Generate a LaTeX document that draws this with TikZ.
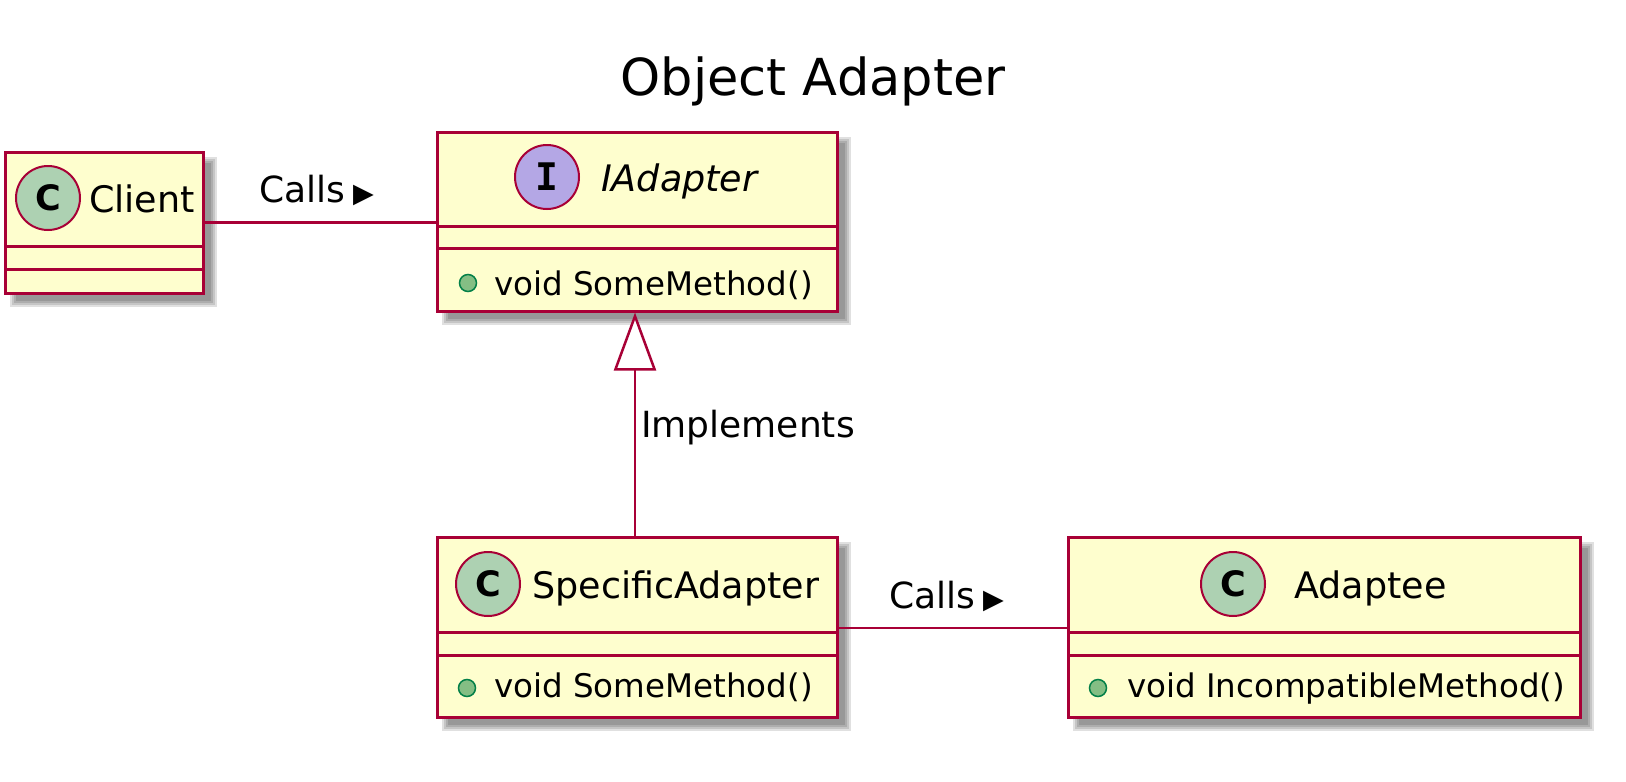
\documentclass[tikz,border=0pt]{standalone}
\usepackage{fontspec}
\setmainfont{DejaVu Sans}
\newfontfamily\letterfont{DejaVu Sans Mono}
\newfontfamily\cletterfont{DejaVu Sans}
\usetikzlibrary{arrows.meta,backgrounds,calc}
\definecolor{umlborder}{HTML}{A80036}
\definecolor{umlfill}{HTML}{FEFECE}
\definecolor{classcirc}{HTML}{ADD1B2}
\definecolor{ifacecirc}{HTML}{B4A7E5}
\definecolor{dotfill}{HTML}{84BE84}
\definecolor{dotline}{HTML}{038048}
\newcommand\tritext{{\fontsize{27}{27}\selectfont ▶}}
\begin{document}
\begin{tikzpicture}[x=1pt,y=-1pt,
  classbox/.style={draw=umlborder, fill=umlfill, line width=3pt, rectangle, inner sep=0pt},
  divider/.style={draw=umlborder, line width=3pt},
  ccirc/.style={circle, draw=umlborder, fill=classcirc, line width=2pt, minimum size=64pt, inner sep=0pt,
    font=\cletterfont\bfseries\fontsize{35}{35}\selectfont},
  icirc/.style={ccirc, fill=ifacecirc, font=\letterfont\bfseries\fontsize{38}{38}\selectfont},
  namelbl/.style={anchor=base west, inner sep=0pt, font=\fontsize{36.5}{42}\selectfont},
  methlbl/.style={anchor=base west, inner sep=0pt, font=\fontsize{32.5}{38}\selectfont},
  pubdot/.style={circle, draw=dotline, fill=dotfill, line width=1.5pt, minimum size=17pt, inner sep=0pt},
  edgelbl/.style={anchor=base west, inner sep=0pt, font=\fontsize{36}{42}\selectfont},
  conn/.style={draw=umlborder, line width=2.5pt}
]
\useasboundingbox (0,0) rectangle (1626,782);

% title
\node[anchor=base, inner sep=0pt, font=\fontsize{51}{60}\selectfont] (title) at (813,95) {Object Adapter};

% boxes
\node[classbox, minimum width=198pt, minimum height=141pt] (client) at (104,222.5) {};
\node[classbox, minimum width=400pt, minimum height=179pt] (iadapter) at (637,221.5) {};
\node[classbox, minimum width=400pt, minimum height=180pt] (specific) at (637,627) {};
\node[classbox, minimum width=512pt, minimum height=180pt] (adaptee) at (1324,627) {};

% shadows
\begin{pgfonlayer}{background}
\foreach \n in {client,iadapter,specific,adaptee}{
  \foreach \d in {-3,-1,1,3}{
    \fill[black, opacity=0.12] ($(\n.north west)+(9+\d,9+\d)$) rectangle ($(\n.south east)+(9-\d,9-\d)$);
  }
}
\end{pgfonlayer}

% dividers
\draw[divider] (5,246) -- (203,246);
\draw[divider] (5,269) -- (203,269);
\draw[divider] (437,226) -- (837,226);
\draw[divider] (437,248) -- (837,248);
\draw[divider] (437,632) -- (837,632);
\draw[divider] (437,655) -- (837,655);
\draw[divider] (1068,632) -- (1580,632);
\draw[divider] (1068,655) -- (1580,655);

% headers
\node[ccirc] (clientc) at (48,198) {C};
\node[namelbl] (clientn) at (89,212) {Client};
\node[icirc] (iadapterc) at (547,177) {I};
\node[namelbl, font=\fontsize{36.5}{42}\selectfont\itshape] (iadaptern) at (601,191) {IAdapter};
\node[ccirc] (specificc) at (488,584) {C};
\node[namelbl] (specificn) at (532,598) {SpecificAdapter};
\node[ccirc] (adapteec) at (1233,584) {C};
\node[namelbl] (adapteen) at (1294,598) {Adaptee};

% methods
\node[pubdot] (iadapterd) at (468,283) {};
\node[methlbl] (iadapterm) at (494,295) {void SomeMethod()};
\node[pubdot] (specificd) at (467,688) {};
\node[methlbl] (specificm) at (494,697) {void SomeMethod()};
\node[pubdot] (adapteed) at (1098,688) {};
\node[methlbl] (adapteem) at (1127,697) {void IncompatibleMethod()};

% connectors
\draw[conn] (client.east) -- (client.east -| iadapter.west);
\draw[conn] (specific.east |- 0,628) -- (adaptee.west |- 0,628);
\draw[conn, -{Triangle[length=58pt, width=42pt, fill=white, line width=2.5pt]}] (specific.north -| 635,0) -- (iadapter.south -| 635,0);

% labels
\node[edgelbl] (calls1) at (259,202) {Calls\hspace{8pt}\tritext};
\node[edgelbl] (calls2) at (889,608) {Calls\hspace{8pt}\tritext};
\node[edgelbl] (impl) at (641,437) {Implements};
\end{tikzpicture}
\end{document}
